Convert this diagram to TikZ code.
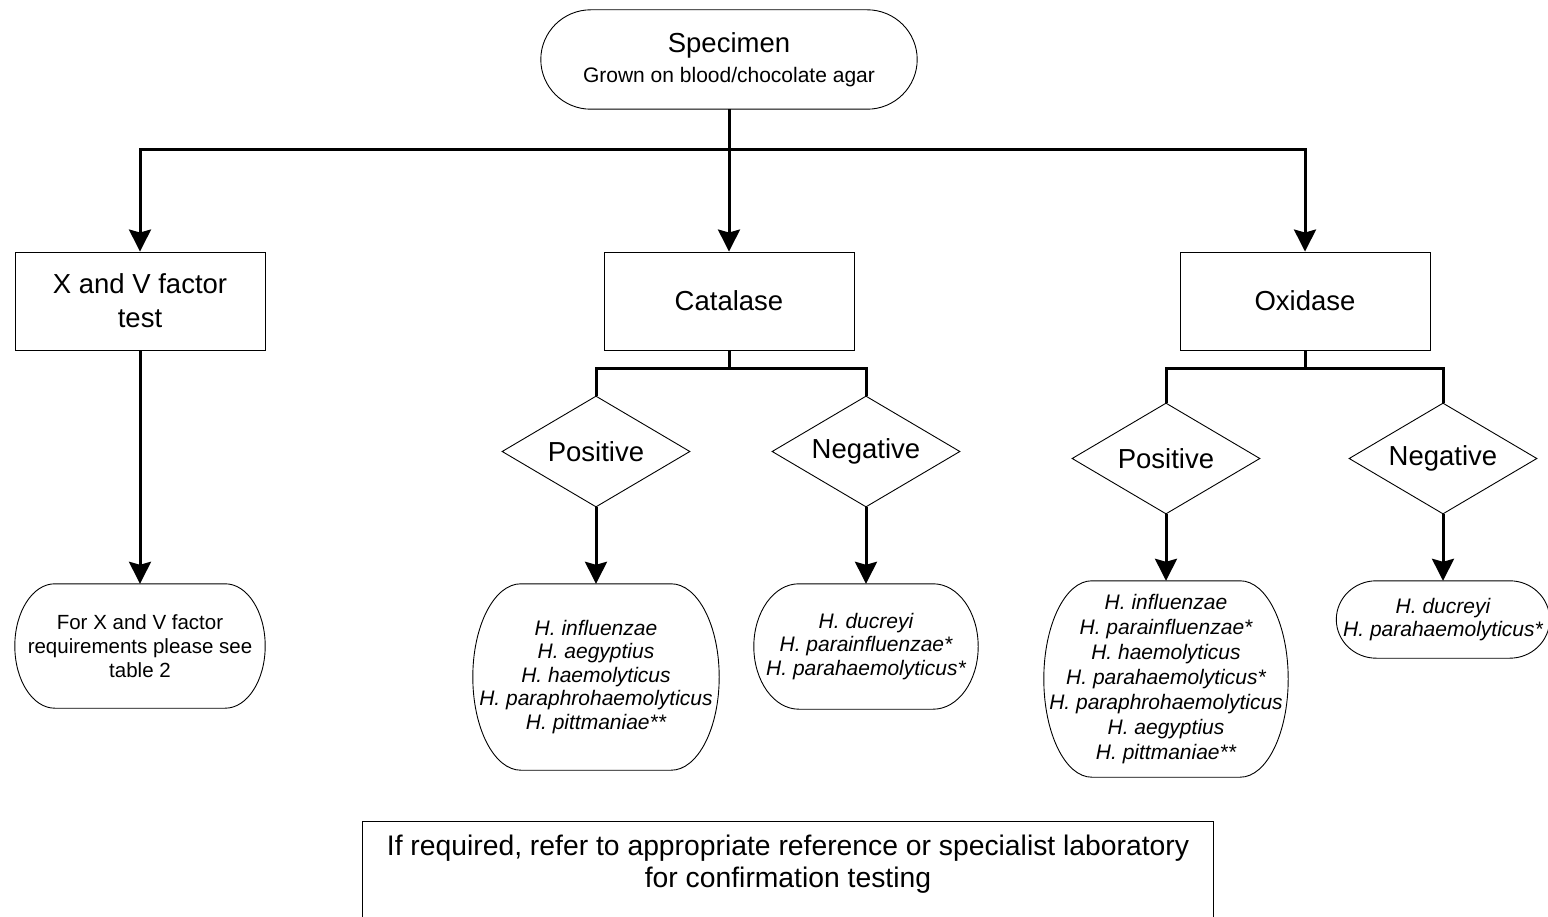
\documentclass[tikz,border=0pt]{standalone}
\usepackage{fontspec}
\setmainfont{Liberation Sans}
\usetikzlibrary{shapes.geometric,arrows.meta,calc}

% outline of a terminator: straight top and bottom, half-ellipse ends
\newcommand{\termshape}[2]{%
  \draw[line width=0.9pt] let \p1=(#1.north east), \p2=(#1.south west), \n1={(\y1-\y2)/2} in
    ([xshift=#2]#1.north west) -- ([xshift=-#2]#1.north east)
    arc[start angle=90, end angle=-90, x radius=#2, y radius=\n1]
    -- ([xshift=#2]#1.south west)
    arc[start angle=270, end angle=90, x radius=#2, y radius=\n1] -- cycle;}

\begin{document}
\begin{tikzpicture}[x=1pt,y=-1pt]
      \tikzset{box/.style={draw, line width=0.9pt,
          minimum width=250pt, minimum height=98pt,
          inner sep=0pt, align=center,
          font=\fontsize{27.5}{34}\selectfont},
        decision/.style={diamond, aspect=1.7, draw, line width=0.9pt,
          minimum width=188pt, minimum height=111pt,
          inner sep=0pt, font=\fontsize{27.5}{32}\selectfont},
        term/.style={inner sep=0pt, align=center},
        species/.style={term, font=\fontsize{21}{23.5}\selectfont\itshape},
        line/.style={line width=3pt},
        arrow/.style={line, -{Stealth[width=22pt,length=22pt,inset=3pt]}}
      }
      \useasboundingbox (0,0) rectangle (1548,917);

      \node [term, minimum width=376pt, minimum height=99pt,
        font=\fontsize{21}{30}\selectfont] (spec) at (729,59.5)
        {{\fontsize{27.5}{30}\selectfont Specimen}\\Grown on blood/chocolate agar};
      \termshape{spec}{50pt}

      \node [box] (xv) at (140,301) {X and V factor\\test};
      \node [box] (cat) at (729,301) {Catalase};
      \node [box] (oxi) at (1305,301) {Oxidase};

      \coordinate (split) at (729,150);
      \draw [line] (spec) -- (split);
      \draw [arrow] (split) -| (xv);
      \draw [arrow] (split) -- (cat);
      \draw [arrow] (split) -| (oxi);

      % catalase branch
      \node [decision] (catpos) at (596,451.5) {Positive};
      \node [decision] (catneg) at (866,451.5) {Negative};
      \coordinate (catsplit) at (729,369);
      \draw [line] (cat) -- (catsplit);
      \draw [line] (catsplit) -| (catpos);
      \draw [line] (catsplit) -| (catneg);

      % oxidase branch
      \node [decision] (oxpos) at (1166,458.5) {Positive};
      \node [decision] (oxneg) at (1443,458.5) {Negative};
      \coordinate (oxsplit) at (1305,369);
      \draw [line] (oxi) -- (oxsplit);
      \draw [line] (oxsplit) -| (oxpos);
      \draw [line] (oxsplit) -| (oxneg);

      \node [term, minimum width=250pt, minimum height=124pt,
        font=\fontsize{20.5}{24}\selectfont] (xvres) at (140,646)
        {For X and V factor\\requirements please see\\table 2};
      \termshape{xvres}{40pt}

      \node [species, minimum width=246pt, minimum height=186pt] (catposres) at (596,677)
        {H. influenzae\\H. aegyptius\\H. haemolyticus\\H. paraphrohaemolyticus\\H. pittmaniae**};
      \termshape{catposres}{48pt}

      \node [species, minimum width=224pt, minimum height=125pt] (catnegres) at (866,646.5)
        {H. ducreyi\\H. parainfluenzae*\\H. parahaemolyticus*};
      \termshape{catnegres}{45pt}

      \node [species, minimum width=244pt, minimum height=196pt,
        font=\fontsize{21}{25}\selectfont\itshape] (oxposres) at (1166,679)
        {H. influenzae\\H. parainfluenzae*\\H. haemolyticus\\H. parahaemolyticus*\\H. paraphrohaemolyticus\\H. aegyptius\\H. pittmaniae**};
      \termshape{oxposres}{48pt}

      \node [species, minimum width=213pt, minimum height=77pt] (oxnegres) at (1443,619.5)
        {H. ducreyi\\H. parahaemolyticus*};
      \termshape{oxnegres}{40pt}

      \draw [arrow] (xv) -- (xvres);
      \draw [arrow] (catpos) -- (catposres);
      \draw [arrow] (catneg) -- (catnegres);
      \draw [arrow] (oxpos) -- (oxposres);
      \draw [arrow] (oxneg) -- (oxnegres);

      % note at the foot, open below
      \node [term, minimum width=850pt, minimum height=84pt,
        font=\fontsize{28.3}{32}\selectfont] (note) at (788,864)
        {If required, refer to appropriate reference or specialist laboratory\\for confirmation testing};
      \draw [line width=0.9pt] ([yshift=-40pt]note.south west) -- (note.north west)
        -- (note.north east) -- ([yshift=-40pt]note.south east);

    \end{tikzpicture}
\end{document}
